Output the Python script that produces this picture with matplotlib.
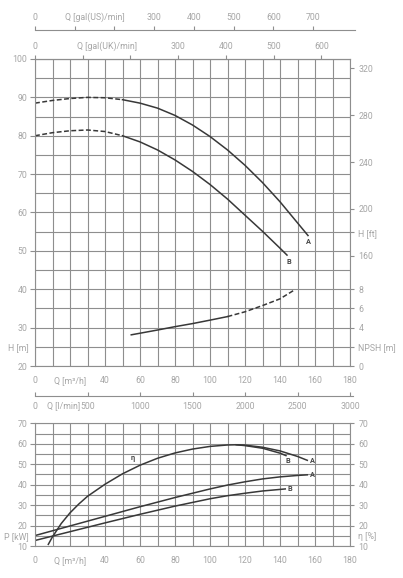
import numpy as np
import matplotlib
matplotlib.use("Agg")
import matplotlib.pyplot as plt
from matplotlib import font_manager
from matplotlib.ticker import FixedLocator, FixedFormatter

# narrow font if we have one, else Roboto
names = {f.name for f in font_manager.fontManager.ttflist}
fam = 'Roboto'
for cand in ['Liberation Sans Narrow', 'Roboto', 'Liberation Sans']:
    if cand in names:
        fam = cand
        break
plt.rcParams['font.family'] = [fam, 'DejaVu Sans']

# --- data (Q in m3/h) ---
head_a_q = [0, 10, 20, 30, 40, 50, 60, 70, 80, 90, 100, 110, 120, 130, 140, 150, 156]
head_a_h = [88.5, 89.2, 89.7, 90.0, 89.9, 89.4, 88.5, 87.2, 85.3, 82.8, 79.8, 76.3, 72.3, 67.8, 62.8, 57.3, 54.0]
head_b_q = [0, 10, 20, 30, 40, 50, 60, 70, 80, 90, 100, 110, 120, 130, 140, 144]
head_b_h = [80.0, 80.8, 81.3, 81.5, 81.1, 80.0, 78.4, 76.3, 73.7, 70.7, 67.3, 63.5, 59.3, 55.1, 50.7, 48.9]
dashed_until = 50  # head curves dashed below this flow

npsh_q = [55, 70, 80, 90, 100, 110, 120, 130, 140, 148]
npsh_m = [3.25, 3.75, 4.1, 4.42, 4.78, 5.15, 5.65, 6.3, 7.0, 7.9]
npsh_solid_until = 110

eta_a_q = [7.6, 10, 15, 20, 25, 30, 40, 50, 60, 70, 80, 90, 100, 110, 115, 120, 130, 140, 150, 155.6]
eta_a = [10.8, 14.5, 21.0, 26.2, 30.5, 34.3, 40.2, 45.3, 49.5, 52.9, 55.5, 57.4, 58.7, 59.4, 59.5, 59.3, 58.3, 56.5, 53.8, 51.9]
eta_b_q = [115, 120, 130, 140, 143.4]
eta_b = [59.5, 59.1, 57.8, 55.4, 54.2]

p_a_q = [0, 20, 40, 60, 80, 100, 110, 120, 130, 140, 150, 155.6]
p_a = [15.1, 19.8, 24.5, 29.2, 33.7, 37.9, 39.8, 41.4, 42.8, 43.8, 44.5, 44.8]
p_b_q = [0, 20, 40, 60, 80, 100, 110, 120, 130, 143]
p_b = [12.7, 17.0, 21.3, 25.5, 29.5, 33.1, 34.6, 35.8, 36.9, 37.9]

us_ticks = [0, 100, 200, 300, 400, 500, 600, 700]
us_labels = ['0', '', '', '300', '400', '500', '600', '700']
uk_ticks = [0, 100, 200, 300, 400, 500, 600]
uk_labels = ['0', '', '', '300', '400', '500', '600']
lmin_ticks = [0, 500, 1000, 1500, 2000, 2500, 3000]
ft_ticks = [160, 180, 200, 240, 280, 320]
ft_labels = ['160', 'H [ft]', '200', '240', '280', '320']
npsh_ticks = [0, 2, 4, 6, 8]
npsh_labels = ['0', 'NPSH [m]', '4', '6', '8']

M3H_TO_US = 1000 / 60 / 3.785411
M3H_TO_UK = 1000 / 60 / 4.54609
M_TO_FT = 3.28084

txt_c = '#a6a6a6'
grid_c = '#8e8e8e'
line_c = '#383838'
fs = 6.3
W, H = 403, 578


def fx(px):
    return px / W


def fy(py):
    return 1 - py / H


def style_axis(ax):
    for s in ax.spines.values():
        s.set_color(grid_c)
        s.set_linewidth(0.8)
    ax.tick_params(colors=grid_c, labelcolor=txt_c, labelsize=fs, width=0.8)


fig = plt.figure(figsize=(W / 100, H / 100), dpi=100)

# ---------------- head / NPSH chart ----------------
ax1 = fig.add_axes([fx(35), fy(366), fx(315), 307 / H])
style_axis(ax1)
ax1.set_xlim(0, 180)
ax1.set_ylim(20, 100)
ax1.set_xticks(np.arange(0, 181, 20))
ax1.set_xticklabels(['0', 'Q [m³/h]'] + [str(v) for v in range(40, 181, 20)])
ax1.xaxis.set_minor_locator(FixedLocator(np.arange(10, 180, 20)))
ax1.set_yticks(np.arange(20, 101, 10))
ax1.yaxis.set_minor_locator(FixedLocator(np.arange(25, 100, 10)))
ax1.yaxis.set_minor_formatter(FixedFormatter(['H [m]'] + [''] * 7))
ax1.grid(which='both', color=grid_c, lw=0.8)
ax1.tick_params(axis='x', which='both', length=0, pad=7)
ax1.tick_params(axis='y', which='major', length=3.5, pad=2)
ax1.tick_params(axis='y', which='minor', length=0, pad=4.5, labelsize=fs, labelcolor=txt_c)
ax1.set_axisbelow(True)

# head curves: dashed part then solid part
for q, h in [(head_a_q, head_a_h), (head_b_q, head_b_h)]:
    q = np.array(q)
    h = np.array(h)
    d = q <= dashed_until
    s = q >= dashed_until
    ax1.plot(q[d], h[d], color=line_c, lw=1.1, ls=(0, (3.2, 1.6)))
    ax1.plot(q[s], h[s], color=line_c, lw=1.1)

lab = dict(color='#444444', fontsize=5.3, ha='center', va='center', fontweight='bold')
ax1.text(156, 52.3, 'A', **lab)
ax1.text(145, 47.2, 'B', **lab)

# NPSH plotted on its own right-hand scale
axn = ax1.twinx()
axn.set_ylim(0, 32)
for s in axn.spines.values():
    s.set_visible(False)
axn.set_yticks(npsh_ticks)
axn.set_yticklabels(npsh_labels)
axn.tick_params(colors=grid_c, labelcolor=txt_c, labelsize=fs, width=0.8, length=3, pad=3)
nq = np.array(npsh_q)
nv = np.array(npsh_m)
axn.plot(nq[nq <= npsh_solid_until], nv[nq <= npsh_solid_until], color=line_c, lw=1.1)
axn.plot(nq[nq >= npsh_solid_until], nv[nq >= npsh_solid_until], color=line_c, lw=1.1, ls=(0, (3.2, 1.6)))

# feet scale
axf = ax1.twinx()
axf.set_ylim(20 * M_TO_FT, 100 * M_TO_FT)
for s in axf.spines.values():
    s.set_visible(False)
axf.set_yticks(ft_ticks)
axf.set_yticklabels(ft_labels)
axf.tick_params(colors=grid_c, labelcolor=txt_c, labelsize=fs, width=0.8, length=3, pad=3)

# gal(UK)/min on top of the chart
sec = ax1.secondary_xaxis('top', functions=(lambda q: q * M3H_TO_UK, lambda g: g / M3H_TO_UK))
sec.set_xticks(uk_ticks)
sec.set_xticklabels(uk_labels)
sec.set_xticks([150], labels=['Q [gal(UK)/min]'], minor=True)
sec.spines['top'].set_color(grid_c)
sec.spines['top'].set_linewidth(0.8)
sec.tick_params(which='major', colors=grid_c, labelcolor=txt_c, labelsize=fs, width=0.8, length=3, pad=3)
sec.tick_params(which='minor', length=0, labelcolor=txt_c, labelsize=fs, pad=6)

# gal(US)/min separate scale line
ax_us = fig.add_axes([fx(35), fy(30), fx(320), 1e-4])
ax_us.set_xlim(0, 180 * 320 / 315)
ax_us.set_ylim(0, 1)
for k in ['bottom', 'left', 'right']:
    ax_us.spines[k].set_visible(False)
ax_us.spines['top'].set_color(grid_c)
ax_us.spines['top'].set_linewidth(0.8)
ax_us.set_yticks([])
ax_us.xaxis.tick_top()
ax_us.set_xticks(np.array(us_ticks) / M3H_TO_US)
ax_us.set_xticklabels(us_labels)
ax_us.set_xticks([150 / M3H_TO_US], labels=['Q [gal(US)/min]'], minor=True)
ax_us.tick_params(which='major', colors=grid_c, labelcolor=txt_c, labelsize=fs, width=0.8, length=3, pad=3)
ax_us.tick_params(which='minor', length=0, labelcolor=txt_c, labelsize=fs, pad=6)

# ---------------- power / efficiency chart ----------------
ax_l = fig.add_axes([fx(35), fy(396), fx(318), 1e-4])
ax_l.set_xlim(0, 3000 * 318 / 315)
ax_l.set_ylim(0, 1)
for k in ['top', 'left', 'right']:
    ax_l.spines[k].set_visible(False)
ax_l.spines['bottom'].set_color(grid_c)
ax_l.spines['bottom'].set_linewidth(0.8)
ax_l.set_yticks([])
ax_l.set_xticks(lmin_ticks)
ax_l.set_xticks([270], labels=['Q [l/min]'], minor=True)
ax_l.tick_params(which='major', direction='in', colors=grid_c, labelcolor=txt_c, labelsize=fs, width=0.8, length=3, pad=4)
ax_l.tick_params(which='minor', length=0, labelcolor=txt_c, labelsize=fs, pad=4)

ax2 = fig.add_axes([fx(35), fy(546), fx(315), 122.7 / H])
style_axis(ax2)
ax2.set_xlim(0, 180)
ax2.set_ylim(10, 70)
ax2.set_xticks(np.arange(0, 181, 20))
ax2.set_xticklabels(['0', 'Q [m³/h]'] + [str(v) for v in range(40, 181, 20)])
ax2.xaxis.set_minor_locator(FixedLocator(np.arange(10, 180, 20)))
ax2.set_yticks(np.arange(10, 71, 10))
ax2.yaxis.set_minor_locator(FixedLocator(np.arange(15, 70, 10)))
ax2.yaxis.set_minor_formatter(FixedFormatter(['P [kW]'] + [''] * 5))
ax2.grid(which='both', color=grid_c, lw=0.8)
ax2.set_axisbelow(True)
ax2.tick_params(axis='x', which='both', length=0, pad=7)
ax2.tick_params(axis='y', which='major', length=3.5, pad=2)
ax2.tick_params(axis='y', which='minor', length=0, pad=4.5, labelsize=fs, labelcolor=txt_c)

ax2.plot(eta_a_q, eta_a, color=line_c, lw=1.1)
ax2.plot(eta_b_q, eta_b, color=line_c, lw=1.1)
ax2.plot(p_a_q, p_a, color=line_c, lw=1.1)
ax2.plot(p_b_q, p_b, color=line_c, lw=1.1)

ax2.text(55.8, 53.1, 'η', **lab)
ax2.text(158.5, 51.7, 'A', **lab)
ax2.text(144.5, 51.7, 'B', **lab)
ax2.text(158.5, 44.9, 'A', **lab)
ax2.text(145.8, 37.8, 'B', **lab)

ax2r = ax2.twinx()
ax2r.set_ylim(10, 70)
for s in ax2r.spines.values():
    s.set_visible(False)
ax2r.set_yticks(np.arange(10, 71, 10))
ax2r.set_yticks([15], labels=['η [%]'], minor=True)
ax2r.tick_params(which='major', colors=grid_c, labelcolor=txt_c, labelsize=fs, width=0.8, length=3, pad=3)
ax2r.tick_params(which='minor', length=0, labelcolor=txt_c, labelsize=fs, pad=6)

fig.savefig('out.png', dpi=100)
